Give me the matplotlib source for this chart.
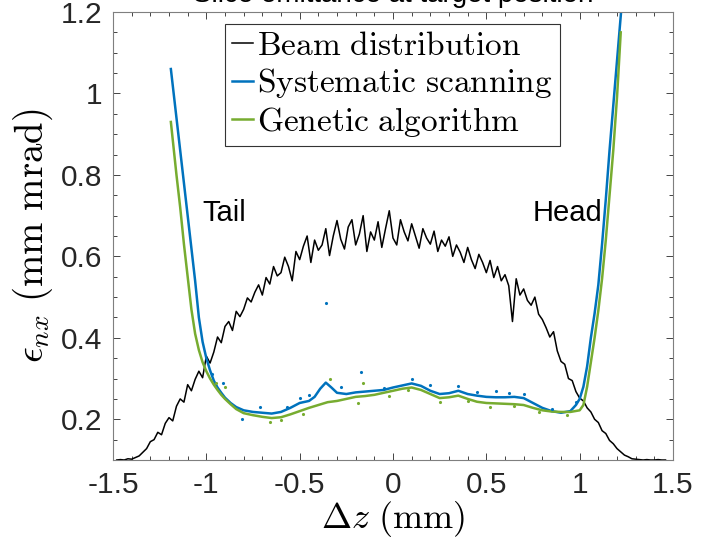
import numpy as np
import matplotlib
matplotlib.use("Agg")
import matplotlib.pyplot as plt
from matplotlib.ticker import MultipleLocator, FixedLocator

plt.rcParams["mathtext.fontset"] = "cm"
plt.rcParams["font.family"] = ["Liberation Sans", "DejaVu Sans"]

# ---- data -------------------------------------------------------------
title = "Slice emittance at target position"

# longitudinal beam profile (arbitrary scale, plotted on the emittance axis)
beam_z = np.round(np.arange(-1.48, 1.4601, 0.02), 2)
beam_profile = [
    0.100, 0.101, 0.100, 0.103, 0.102, 0.106, 0.110, 0.119, 0.128, 0.145,
    0.150, 0.168, 0.162, 0.190, 0.204, 0.196, 0.232, 0.250, 0.242, 0.285,
    0.270, 0.298, 0.318, 0.302, 0.355, 0.338, 0.365, 0.402, 0.388, 0.428,
    0.440, 0.418, 0.465, 0.452, 0.470, 0.498, 0.488, 0.512, 0.530, 0.505,
    0.548, 0.532, 0.575, 0.552, 0.560, 0.598, 0.575, 0.540, 0.612, 0.592,
    0.625, 0.650, 0.585, 0.640, 0.615, 0.628, 0.668, 0.602, 0.650, 0.688,
    0.642, 0.618, 0.672, 0.690, 0.628, 0.655, 0.700, 0.612, 0.660, 0.640,
    0.685, 0.622, 0.668, 0.712, 0.645, 0.628, 0.690, 0.660, 0.638, 0.680,
    0.650, 0.620, 0.668, 0.645, 0.630, 0.662, 0.612, 0.640, 0.625, 0.648,
    0.600, 0.628, 0.610, 0.585, 0.622, 0.592, 0.570, 0.605, 0.585, 0.560,
    0.590, 0.548, 0.575, 0.540, 0.555, 0.528, 0.440, 0.545, 0.505, 0.520,
    0.492, 0.480, 0.500, 0.458, 0.445, 0.425, 0.402, 0.415, 0.368, 0.342,
    0.335, 0.300, 0.295, 0.268, 0.252, 0.245, 0.228, 0.218, 0.200, 0.192,
    0.172, 0.165, 0.148, 0.140, 0.128, 0.120, 0.112, 0.108, 0.103, 0.102,
    0.101, 0.100, 0.101, 0.100, 0.100, 0.101, 0.100, 0.100,
]

# fitted slice emittance, systematic scanning
scan_z = [-1.19, -1.16, -1.14, -1.12, -1.10, -1.08, -1.06, -1.04, -1.02, -1.00,
          -0.98, -0.96, -0.94, -0.92, -0.90, -0.87, -0.84, -0.80, -0.75, -0.70,
          -0.65, -0.60, -0.55, -0.50, -0.45, -0.42, -0.39, -0.36, -0.33, -0.30,
          -0.25, -0.20, -0.15, -0.10, -0.05, 0.00, 0.05, 0.10, 0.15, 0.20,
          0.25, 0.30, 0.35, 0.40, 0.45, 0.50, 0.55, 0.60, 0.65, 0.70,
          0.75, 0.80, 0.85, 0.90, 0.95, 0.98, 1.00, 1.02, 1.04, 1.06,
          1.08, 1.10, 1.12, 1.14, 1.16, 1.18, 1.20, 1.22, 1.24]
scan_emit = [1.06, 0.94, 0.86, 0.78, 0.70, 0.62, 0.54, 0.45, 0.39, 0.35,
             0.32, 0.295, 0.278, 0.265, 0.253, 0.240, 0.230, 0.222, 0.218, 0.216,
             0.214, 0.218, 0.228, 0.240, 0.245, 0.255, 0.275, 0.290, 0.278, 0.265,
             0.262, 0.266, 0.268, 0.270, 0.272, 0.278, 0.283, 0.288, 0.282, 0.270,
             0.262, 0.264, 0.270, 0.262, 0.258, 0.255, 0.254, 0.254, 0.255, 0.252,
             0.240, 0.228, 0.220, 0.216, 0.220, 0.235, 0.250, 0.280, 0.330, 0.400,
             0.460, 0.530, 0.630, 0.740, 0.860, 0.970, 1.080, 1.190, 1.300]

# fitted slice emittance, genetic algorithm
ga_z = [-1.19, -1.16, -1.14, -1.12, -1.10, -1.08, -1.06, -1.04, -1.02, -1.00,
        -0.98, -0.96, -0.94, -0.92, -0.90, -0.87, -0.84, -0.80, -0.75, -0.70,
        -0.65, -0.60, -0.55, -0.50, -0.45, -0.40, -0.35, -0.30, -0.25, -0.20,
        -0.15, -0.10, -0.05, 0.00, 0.05, 0.10, 0.15, 0.20, 0.25, 0.30,
        0.35, 0.40, 0.45, 0.50, 0.55, 0.60, 0.65, 0.70, 0.75, 0.80,
        0.85, 0.90, 0.95, 1.00, 1.02, 1.04, 1.06, 1.08, 1.10, 1.12,
        1.14, 1.16, 1.18, 1.20, 1.22]
ga_emit = [0.93, 0.80, 0.72, 0.63, 0.55, 0.47, 0.41, 0.37, 0.34, 0.318,
           0.300, 0.285, 0.272, 0.260, 0.250, 0.237, 0.225, 0.215, 0.210, 0.206,
           0.203, 0.205, 0.212, 0.220, 0.228, 0.235, 0.242, 0.245, 0.250, 0.255,
           0.257, 0.260, 0.265, 0.270, 0.275, 0.278, 0.272, 0.262, 0.252, 0.254,
           0.258, 0.250, 0.243, 0.240, 0.239, 0.238, 0.237, 0.235, 0.228, 0.222,
           0.219, 0.218, 0.218, 0.222, 0.235, 0.280, 0.340, 0.400, 0.467, 0.545,
           0.640, 0.750, 0.860, 0.990, 1.150]

# individual slice measurements
scan_pts_z = [-0.97, -0.91, -0.81, -0.71, -0.57, -0.50, -0.45, -0.36, -0.28, -0.17,
              -0.05, 0.10, 0.20, 0.35, 0.45, 0.55, 0.62, 0.70, 0.85, 0.98]
scan_pts_emit = [0.31, 0.29, 0.20, 0.23, 0.23, 0.253, 0.26, 0.485, 0.28, 0.315,
                 0.276, 0.298, 0.285, 0.281, 0.266, 0.270, 0.265, 0.261, 0.226, 0.242]
ga_pts_z = [-0.95, -0.90, -0.66, -0.60, -0.48, -0.34, -0.19, -0.16, -0.02, 0.08,
            0.25, 0.40, 0.52, 0.65, 0.78, 0.93]
ga_pts_emit = [0.29, 0.28, 0.193, 0.198, 0.212, 0.30, 0.24, 0.29, 0.258, 0.272,
               0.242, 0.244, 0.231, 0.232, 0.219, 0.211]

labels = ["Beam distribution", "Systematic scanning", "Genetic algorithm"]
xticks = [-1.5, -1, -0.5, 0, 0.5, 1, 1.5]
yticks = [0.2, 0.4, 0.6, 0.8, 1.0, 1.2]

# ---- figure -----------------------------------------------------------
blue = "#0072BD"
green = "#77AC30"
axis_gray = "#262626"

fig = plt.figure(figsize=(7.09, 5.46), dpi=100)
ax = fig.add_axes([113 / 709, 86 / 546, 560 / 709, 448 / 546])

ax.plot(beam_z, beam_profile, color="black", lw=1.1, label=labels[0])
ax.plot(scan_z, scan_emit, color=blue, lw=1.8, label=labels[1])
ax.plot(ga_z, ga_emit, color=green, lw=1.8, label=labels[2])
ax.plot(scan_pts_z, scan_pts_emit, ls="none", marker=".", ms=2.5, color=blue)
ax.plot(ga_pts_z, ga_pts_emit, ls="none", marker=".", ms=2.5, color=green)

ax.set_xlim(-1.5, 1.5)
ax.set_ylim(0.1, 1.2)
ax.xaxis.set_major_locator(FixedLocator(xticks))
ax.yaxis.set_major_locator(FixedLocator(yticks))
ax.xaxis.set_minor_locator(MultipleLocator(0.1))
ax.yaxis.set_minor_locator(MultipleLocator(0.05))
ax.set_xticklabels(["-1.5", "-1", "-0.5", "0", "0.5", "1", "1.5"])
ax.set_yticklabels(["0.2", "0.4", "0.6", "0.8", "1", "1.2"])

ax.tick_params(which="both", direction="in", top=True, right=True,
               color=axis_gray, width=0.6, labelsize=21.5, labelcolor=axis_gray)
ax.tick_params(which="major", length=5, pad=8)
ax.tick_params(which="minor", length=3)
for s in ax.spines.values():
    s.set_color("#7f7f7f")
    s.set_linewidth(0.8)

ax.set_xlabel(r"$\Delta z\ \mathrm{(mm)}$", fontsize=26, labelpad=0)
ax.set_ylabel(r"$\epsilon_{nx}\ \mathrm{(mm\ mrad)}$", fontsize=28, labelpad=4)

ax.text(-1.02, 0.687, "Tail", fontsize=21, color="black")
ax.text(0.75, 0.687, "Head", fontsize=21, color="black")

fig.text(393 / 709, 1 - 2 / 546, title, ha="center", va="baseline",
         fontsize=20, color="black")

handles, _ = ax.get_legend_handles_labels()
leg = ax.legend(handles, [r"$\mathrm{%s}$" % l.replace(" ", r"\ ") for l in labels],
                loc="upper left", bbox_to_anchor=(0.2, 0.973), fontsize=24,
                frameon=True, fancybox=False, framealpha=1, edgecolor="#333333",
                handlelength=0.65, handletextpad=0.12, labelspacing=0.14,
                borderpad=0.2, borderaxespad=0)
leg.get_frame().set_linewidth(0.8)

fig.savefig("out.png", dpi=100)
